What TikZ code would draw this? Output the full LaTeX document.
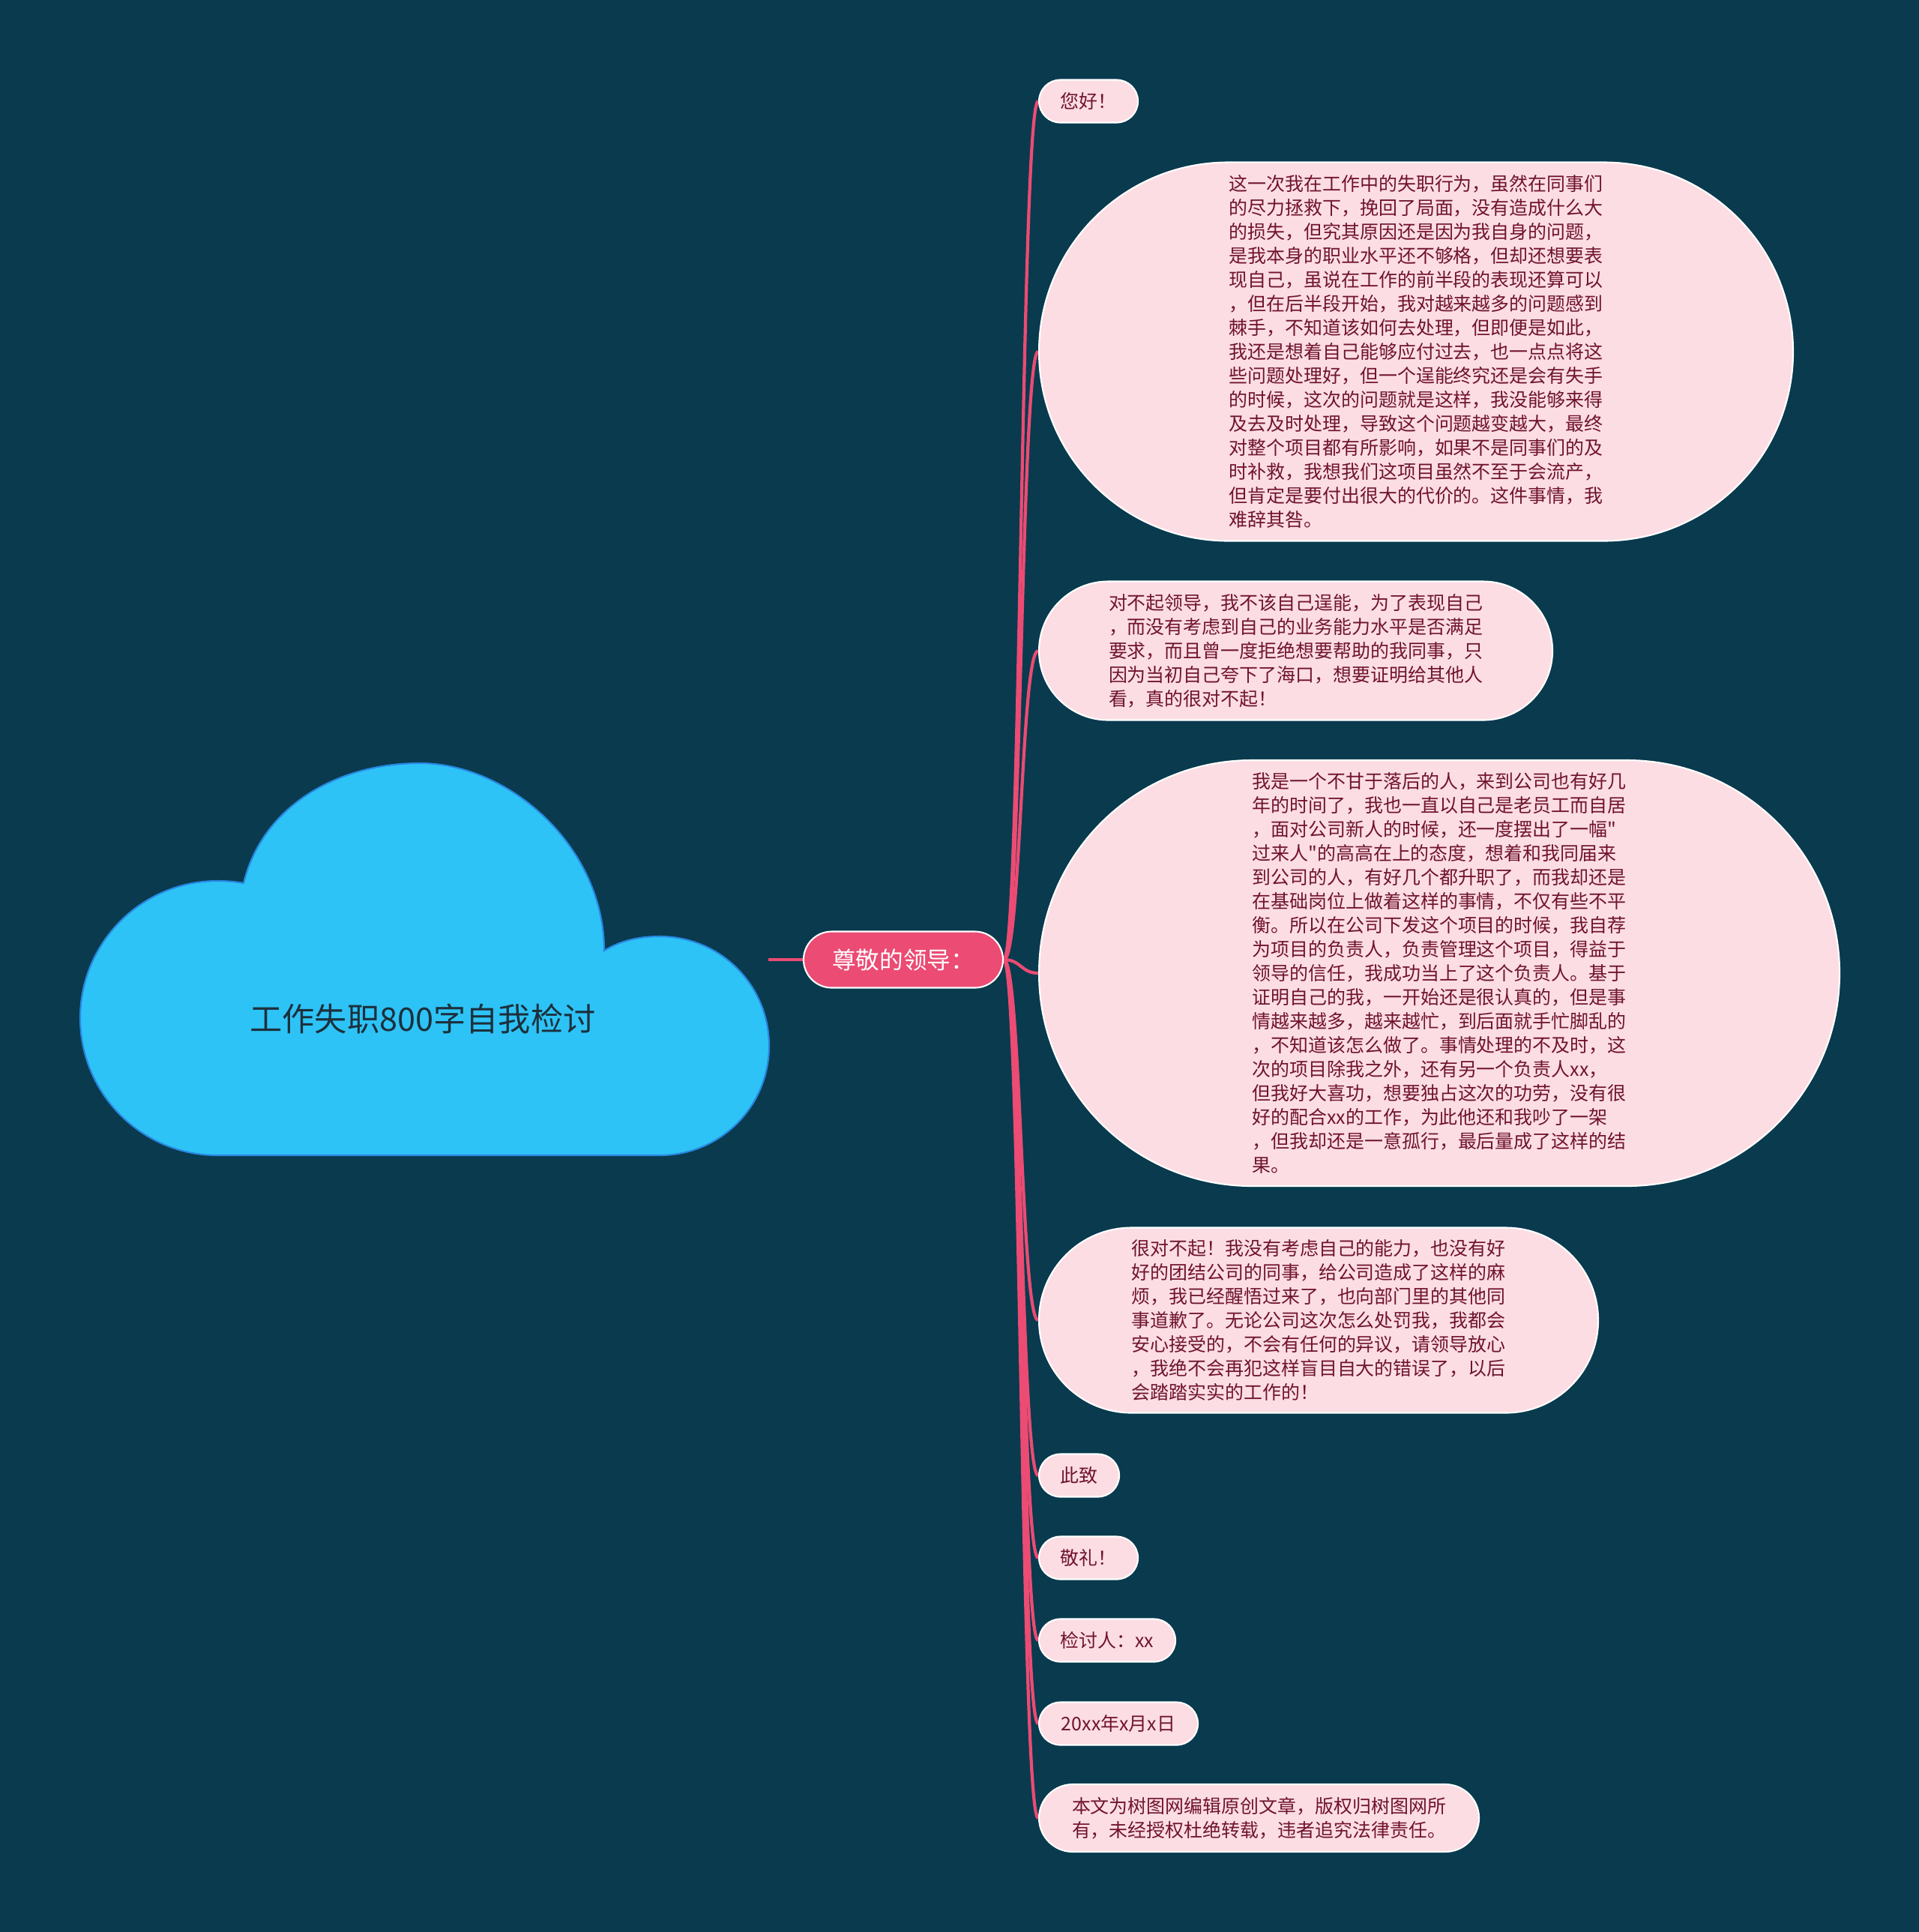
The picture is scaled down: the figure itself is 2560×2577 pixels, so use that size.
\documentclass[tikz,border=0pt]{standalone}
\usepackage{fontspec}
\usepackage{tikz}
\usetikzlibrary{shapes.misc, positioning}
\newfontfamily\cjk{Noto Sans CJK SC}
\definecolor{cBack}{RGB}{9,58,78}
\definecolor{cCloud}{RGB}{46,195,246}
\definecolor{cCloudEdge}{RGB}{40,135,225}
\definecolor{cTitle}{RGB}{28,48,60}
\definecolor{cRose}{RGB}{236,75,115}
\definecolor{cLeaf}{RGB}{252,221,228}
\definecolor{cInk}{RGB}{112,20,45}
\pgfdeclarelayer{bg}
\pgfdeclarelayer{wires}
\pgfsetlayers{bg,wires,main}
\tikzset{
	cloudshape/.style={fill=cCloud, draw=cCloudEdge, line width=0.6pt},
	title/.style    ={text=cTitle, font=\cjk\fontsize{12.3}{15}\selectfont},
	lead/.style     ={rounded rectangle, draw=white, line width=0.6pt, fill=cRose, text=white, inner xsep=0pt, minimum height=7.5mm, font=\cjk\fontsize{9}{11}\selectfont},
	leaf/.style     ={rounded rectangle, draw=white, line width=0.6pt, fill=cLeaf, text=cInk, align=left, inner xsep=0pt, anchor=west, minimum height=5.7mm, font=\cjk\fontsize{7.1}{9.1}\selectfont},
	link/.style     ={draw=cRose, line width=1.2pt},
}

\begin{document}
\begin{tikzpicture}[x=0.1mm, y=-0.1mm]
	\begin{pgfonlayer}{bg}
		\fill[cBack] (0,0) rectangle (2560,2577);
	\end{pgfonlayer}
	\useasboundingbox (0,0) rectangle (2560,2577);

	% cloud with the topic
	\draw[cloudshape] (290,1541)
		.. controls (189,1541) and (107,1459) .. (107,1358)
		.. controls (107,1257) and (189,1175) .. (290,1175)
		.. controls (302,1175) and (314,1176) .. (325,1178)
		.. controls (350,1075) and (450,1018) .. (560,1018)
		.. controls (680,1018) and (806,1130) .. (806,1268)
		.. controls (827,1255) and (852,1249) .. (880,1249)
		.. controls (961,1249) and (1026,1314) .. (1026,1395)
		.. controls (1026,1476) and (961,1541) .. (880,1541)
		-- cycle;
	\node[title] (title) at (564,1359) {工作失职800字自我检讨};
	\coordinate (tail) at (1025,1280);

	\node[lead, minimum width=26.6mm] (lead) at (1205,1280) {尊敬的领导：};

	\node[leaf, minimum width=13.2mm] (hello) at (1385,135) {您好！};
	\node[leaf, minimum width=100.6mm, minimum height=50.5mm] (p1) at (1385,469) {这一次我在工作中的失职行为，虽然在同事们\\的尽力拯救下，挽回了局面，没有造成什么大\\的损失，但究其原因还是因为我自身的问题，\\是我本身的职业水平还不够格，但却还想要表\\现自己，虽说在工作的前半段的表现还算可以\\，但在后半段开始，我对越来越多的问题感到\\棘手，不知道该如何去处理，但即便是如此，\\我还是想着自己能够应付过去，也一点点将这\\些问题处理好，但一个逞能终究还是会有失手\\的时候，这次的问题就是这样，我没能够来得\\及去及时处理，导致这个问题越变越大，最终\\对整个项目都有所影响，如果不是同事们的及\\时补救，我想我们这项目虽然不至于会流产，\\但肯定是要付出很大的代价的。这件事情，我\\难辞其咎。};
	\node[leaf, minimum width=68.5mm, minimum height=18.5mm] (p2) at (1385,868) {对不起领导，我不该自己逞能，为了表现自己\\，而没有考虑到自己的业务能力水平是否满足\\要求，而且曾一度拒绝想要帮助的我同事，只\\因为当初自己夸下了海口，想要证明给其他人\\看，真的很对不起！};
	\node[leaf, minimum width=106.8mm, minimum height=56.8mm] (p3) at (1385,1298) {我是一个不甘于落后的人，来到公司也有好几\\年的时间了，我也一直以自己是老员工而自居\\，面对公司新人的时候，还一度摆出了一幅"\\过来人"的高高在上的态度，想着和我同届来\\到公司的人，有好几个都升职了，而我却还是\\在基础岗位上做着这样的事情，不仅有些不平\\衡。所以在公司下发这个项目的时候，我自荐\\为项目的负责人，负责管理这个项目，得益于\\领导的信任，我成功当上了这个负责人。基于\\证明自己的我，一开始还是很认真的，但是事\\情越来越多，越来越忙，到后面就手忙脚乱的\\，不知道该怎么做了。事情处理的不及时，这\\次的项目除我之外，还有另一个负责人xx，\\但我好大喜功，想要独占这次的功劳，没有很\\好的配合xx的工作，为此他还和我吵了一架\\，但我却还是一意孤行，最后量成了这样的结\\果。};
	\node[leaf, minimum width=74.6mm, minimum height=24.7mm] (p4) at (1385,1761) {很对不起！我没有考虑自己的能力，也没有好\\好的团结公司的同事，给公司造成了这样的麻\\烦，我已经醒悟过来了，也向部门里的其他同\\事道歉了。无论公司这次怎么处罚我，我都会\\安心接受的，不会有任何的异议，请领导放心\\，我绝不会再犯这样盲目自大的错误了，以后\\会踏踏实实的工作的！};
	\foreach \name/\y/\w/\txt in {sincerely/1968/10.7/此致, salute/2078/13.2/敬礼！, signer/2188/18.2/检讨人：xx, date/2299/21.2/20xx年x月x日} {
		\node[leaf, minimum width=\w mm] (\name) at (1385,\y) {\txt};
	}
	\node[leaf, minimum width=58.7mm, minimum height=9mm] (note) at (1385,2425) {本文为树图网编辑原创文章，版权归树图网所\\有，未经授权杜绝转载，违者追究法律责任。};

	\begin{pgfonlayer}{wires}
		\draw[link] (tail) -- (lead.west);
		\foreach \n in {hello,p1,p2,p3,p4,sincerely,salute,signer,date,note} {
			\draw[link] (lead.east) .. controls +(23,0) and +(-23,0) .. (\n.west);
		}
	\end{pgfonlayer}
\end{tikzpicture}
\end{document}
